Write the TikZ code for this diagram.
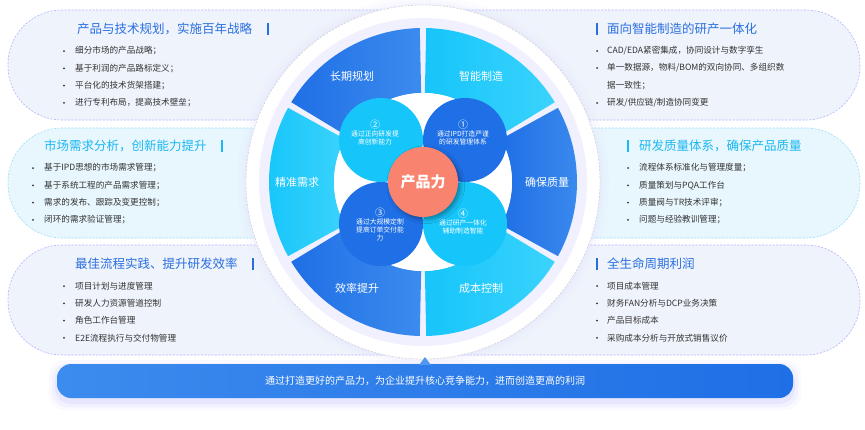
\documentclass[tikz,border=0pt]{standalone}
\usepackage{fontspec}
\setmainfont{Noto Sans CJK SC}
\usetikzlibrary{shadows.blur}
\definecolor{dblue}{HTML}{1F6FE6}
\definecolor{dblue2}{HTML}{3C8BEE}
\definecolor{cyanb}{HTML}{16C5FA}
\definecolor{cyanb2}{HTML}{3AD3FC}
\definecolor{titleb}{HTML}{2A6FE0}
\definecolor{titlec}{HTML}{1BB8F2}
\definecolor{txt}{HTML}{333333}
\definecolor{boxf}{HTML}{EFF3FB}
\definecolor{boxfc}{HTML}{E8F6FD}
\definecolor{salmon}{HTML}{F8846F}
\tikzset{
 ttl/.style={anchor=west,font=\fontsize{12.5}{14}\selectfont,inner sep=0pt},
 blt/.style={anchor=west,font=\fontsize{8.6}{10}\selectfont,text=txt,inner sep=0pt},
 bar/.style={line width=2.6pt},
 boxb/.style={draw=#1,line width=0.6pt,dash pattern=on 2pt off 1.5pt,rounded corners=54pt},
 seg/.style={text=white,font=\fontsize{11}{12}\selectfont},
 pet/.style={text=white,font=\fontsize{6.8}{8}\selectfont,align=center},
}
\begin{document}
\begin{tikzpicture}[x=1pt,y=-1pt]
\useasboundingbox (0,0) rectangle (865,429);
\fill[white] (0,0) rectangle (865,429);
% left boxes
\fill[boxf,boxb=blue!30] (420,10) -- (8,10) -- (8,120) -- (420,120);
\fill[boxfc,boxb=cyan!40] (420,128) -- (8,128) -- (8,238) -- (420,238);
\fill[boxf,boxb=blue!30] (420,245) -- (8,245) -- (8,355) -- (420,355);
% right boxes
\fill[boxf,boxb=blue!30] (426,10) -- (860,10) -- (860,120) -- (426,120);
\fill[boxfc,boxb=cyan!40] (426,128) -- (860,128) -- (860,238) -- (426,238);
\fill[boxf,boxb=blue!30] (426,245) -- (860,245) -- (860,355) -- (426,355);
% central disc
\foreach \r/\o in {186/0.08,182/0.12,179/0.2}{\fill[blue!12,opacity=\o] (423,182) circle[radius=\r];}
\fill[white] (423,182) circle[radius=177];
\draw[gray!45,dash pattern=on 2pt off 1.5pt] (423,182) circle[radius=177];
\fill[blue!6] (423,182) circle[radius=164];
% ring segments
\foreach \a/\c/\cc in {90/dblue/dblue2,30/cyanb/cyanb2,-30/dblue/dblue2,-90/cyanb/cyanb2,-150/dblue/dblue2,150/cyanb/cyanb2}{
  \shade[left color=\c,right color=\cc] ({423+154*cos(\a+1.2)},{182-154*sin(\a+1.2)}) arc[start angle={-(\a+1.2)},end angle={-(\a+58.8)},radius=154]
   -- ({423+89*cos(\a+58.8)},{182-89*sin(\a+58.8)}) arc[start angle={-(\a+58.8)},end angle={-(\a+1.2)},radius=89] -- cycle;
}
\node[seg] (lp) at (352,76) {长期规划};
\node[seg] (zn) at (481,76) {智能制造};
\node[seg] (qb) at (547,182) {确保质量};
\node[seg] (cb) at (481,288) {成本控制};
\node[seg] (xl) at (357,288) {效率提升};
\node[seg] (jz) at (297,182) {精准需求};
% petals
\fill[white] (423,182) circle[radius=89];
\fill[cyanb] (381,140) circle[radius=42];
\fill[dblue] (465,140) circle[radius=42];
\fill[dblue] (381,224) circle[radius=42];
\fill[cyanb] (465,224) circle[radius=42];
\node[pet] (p2) at (375,133) {{\fontsize{10}{11}\selectfont ②}\\通过正向研发提\\高创新能力};
\node[pet] (p1) at (463,133) {{\fontsize{10}{11}\selectfont ①}\\通过IPD打造严谨\\的研发管理体系};
\node[pet] (p3) at (380,225) {{\fontsize{10}{11}\selectfont ③}\\通过大规模定制\\提高订单交付能\\力};
\node[pet] (p4) at (463,222) {{\fontsize{10}{11}\selectfont ④}\\通过研产一体化\\辅助制造智能};
\fill[salmon,blur shadow={shadow blur radius=4pt,shadow opacity=35}] (423,182) circle[radius=35];
\node[text=white,font=\bfseries\fontsize{15}{16}\selectfont] (core) at (423,182) {产品力};
% left texts
\node[ttl,text=titleb] (t1) at (77,29) {产品与技术规划，实施百年战略};
\draw[titleb,bar] (268,23) -- (268,35);
\foreach \i/\s in {0/细分市场的产品战略；,1/基于利润的产品路标定义；,2/平台化的技术货架搭建；,3/进行专利布局，提高技术壁垒；}
  {\node[blt] (l1\i) at (75,{51+17.3*\i}) {\s}; \fill[txt] (64,{51+17.3*\i}) circle[radius=1];}
\node[ttl,text=titlec] (t2) at (44,146) {市场需求分析，创新能力提升};
\draw[titlec,bar] (222,140) -- (222,152);
\foreach \i/\s in {0/基于IPD思想的市场需求管理；,1/基于系统工程的产品需求管理；,2/需求的发布、跟踪及变更控制；,3/闭环的需求验证管理；}
  {\node[blt] (l2\i) at (44,{168+17.3*\i}) {\s}; \fill[txt] (33,{168+17.3*\i}) circle[radius=1];}
\node[ttl,text=titleb] (t3) at (75,264) {最佳流程实践、提升研发效率};
\draw[titleb,bar] (253,258) -- (253,270);
\foreach \i/\s in {0/项目计划与进度管理,1/研发人力资源管道控制,2/角色工作台管理,3/E2E流程执行与交付物管理}
  {\node[blt] (l3\i) at (75,{286+17.3*\i}) {\s}; \fill[txt] (64,{286+17.3*\i}) circle[radius=1];}
% right texts
\draw[titleb,bar] (597,23) -- (597,35);
\node[ttl,text=titleb] (r1) at (607,29) {面向智能制造的研产一体化};
\node[blt] (r1a) at (607,51) {CAD/EDA紧密集成，协同设计与数字孪生};
\node[blt] (r1b) at (607,68) {单一数据源，物料/BOM的双向协同、多组织数};
\node[blt] (r1w) at (607,85.5) {据一致性；};
\node[blt] (r1c) at (607,103) {研发/供应链/制造协同变更};
\foreach \y in {51,68,103}{\fill[txt] (597,\y) circle[radius=1];}
\draw[titlec,bar] (628,140) -- (628,152);
\node[ttl,text=titlec] (r2) at (639,146) {研发质量体系，确保产品质量};
\foreach \i/\s in {0/流程体系标准化与管理度量；,1/质量策划与PQA工作台,2/质量阀与TR技术评审；,3/问题与经验教训管理；}
  {\node[blt] (m2\i) at (639,{168+17.3*\i}) {\s}; \fill[txt] (628,{168+17.3*\i}) circle[radius=1];}
\draw[titleb,bar] (597,258) -- (597,270);
\node[ttl,text=titleb] (r3) at (607,264) {全生命周期利润};
\foreach \i/\s in {0/项目成本管理,1/财务FAN分析与DCP业务决策,2/产品目标成本,3/采购成本分析与开放式销售议价}
  {\node[blt] (m3\i) at (607,{286+17.3*\i}) {\s}; \fill[txt] (597,{286+17.3*\i}) circle[radius=1];}
% banner
\foreach \d/\o in {8/0.05,5/0.08,2/0.12}{\fill[blue!40,opacity=\o,rounded corners=16pt] (57-\d,364-\d+4) rectangle (793+\d,398+\d+4);}
\shade[left color=dblue2,right color=dblue,rounded corners=14pt] (57,364) rectangle (793,398);
\fill[dblue2!90] (419,365) -- (425,357) -- (431,365) -- cycle;
\node[text=white,font=\fontsize{10}{12}\selectfont] (ban) at (425,381) {通过打造更好的产品力，为企业提升核心竞争能力，进而创造更高的利润};
\end{tikzpicture}
\end{document}
